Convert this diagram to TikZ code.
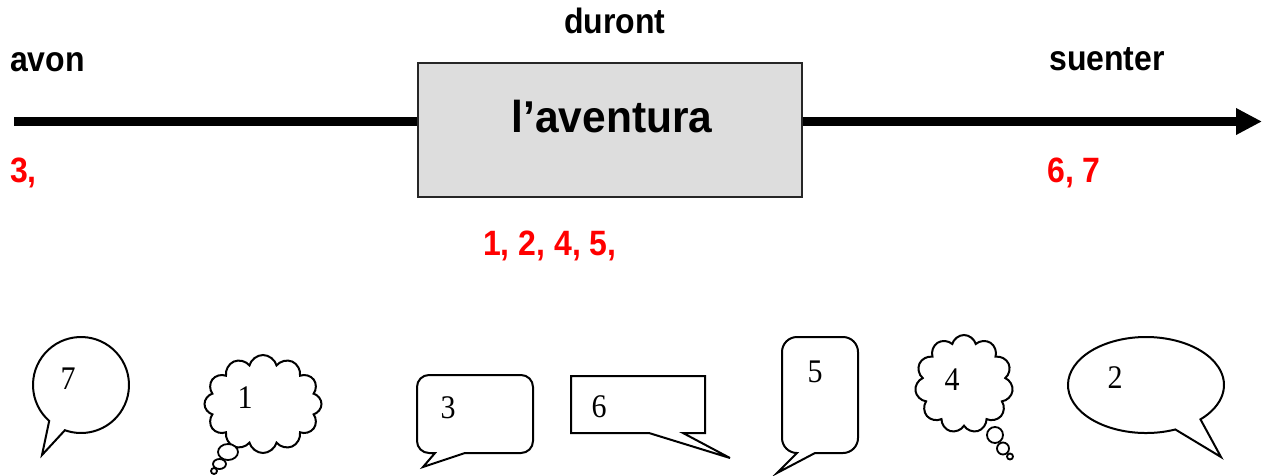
\documentclass[tikz,border=0pt]{standalone}
\usepackage{fontspec}
\setmainfont{Liberation Sans}
\newfontfamily\numfont{Liberation Serif}
\usetikzlibrary{arrows.meta,shapes.symbols}
\definecolor{boxgray}{HTML}{DDDDDD}
\newcommand{\tallish}[1]{\scalebox{1}[1.1]{#1}}
\tikzset{
 lbl/.style={font=\fontsize{32}{32}\selectfont\bfseries, inner sep=0pt, anchor=base west},
 redlbl/.style={lbl, text=red},
 bubble/.style={draw=black, line width=2pt, fill=white, line join=miter},
 num/.style={font=\fontsize{30}{30}\selectfont\numfont, inner sep=0pt, anchor=base},
 cloudshape/.style={cloud, draw=black, line width=2pt, fill=white, inner sep=0pt},
 thought/.style={draw=black, line width=1.8pt, fill=white},
 timeline/.style={line width=9pt, line cap=butt},
}
\begin{document}
\begin{tikzpicture}[x=1pt,y=-1pt]
\useasboundingbox (0,0) rectangle (1267,475);
% timeline
\coordinate (start) at (14,121.5);
\coordinate (end) at (1262,121.5);
\node[draw=black!85, line width=2pt, fill=boxgray, minimum width=384pt, minimum height=134pt, inner sep=0pt] (box) at (609.5,129.5) {};
\draw[timeline] (start) -- (start -| box.west);
\draw[timeline, -{Triangle[length=26pt,width=25pt]}] (end -| box.east) -- (end);
\node[font=\fontsize{42.5}{42.5}\selectfont\bfseries, inner sep=0pt, anchor=base] (title) at (612,132) {\scalebox{1}[1.05]{l’aventura}};
% labels
\node[lbl] (avon) at (10,71) {\tallish{avon}};
\node[lbl] (duront) at (564,33) {\tallish{duront}};
\node[lbl] (suenter) at (1049,70) {\tallish{suenter}};
\node[redlbl] (r1) at (10,182) {\tallish{3,}};
\node[redlbl] (r3) at (1047,182) {\tallish{6, 7}};
\node[redlbl] (r2) at (483,255) {\tallish{1, 2, 4, 5,}};
% bubble 7
\draw[bubble] (81,385) ++(131.5:48 and 48) arc[start angle=131.5, end angle=469.6, x radius=48, y radius=48] -- (42,455) -- cycle;
\node[num] (n7) at (68,389) {\tallish{7}};
% cloud 1
\node[cloudshape, cloud puffs=12, minimum width=117pt, minimum height=98pt] (c1) at (263,404) {};
\draw[thought] (228,452) ellipse[x radius=10, y radius=8];
\draw[thought] (219.5,464) ellipse[x radius=6.5, y radius=5];
\draw[thought] (214,471) circle[radius=3];
\node[num] (n1) at (245,408) {\tallish{1}};
% bubble 3
\draw[bubble] (521,453) -- (465,453) -- (423,467) -- (435,453) -- (429,453)
  arc[start angle=90, end angle=180, radius=12] -- (417,387)
  arc[start angle=180, end angle=270, radius=12] -- (521,375)
  arc[start angle=270, end angle=360, radius=12] -- (533,441)
  arc[start angle=0, end angle=90, radius=12] -- cycle;
\node[num] (n3) at (448,418) {\tallish{3}};
% bubble 6
\draw[bubble] (571,376) -- (705,376) -- (705,433) -- (683,433) -- (730,458) -- (649,433) -- (571,433) -- cycle;
\node[num] (n6) at (599,417) {\tallish{6}};
% bubble 5
\draw[bubble] (843,453) -- (815,453) -- (777,473) -- (797,453)
  arc[start angle=90, end angle=180, radius=15] -- (782,352)
  arc[start angle=180, end angle=270, radius=15] -- (843,337)
  arc[start angle=270, end angle=360, radius=15] -- (858,438)
  arc[start angle=0, end angle=90, radius=15] -- cycle;
\node[num] (n5) at (815,382) {\tallish{5}};
% cloud 4
\node[cloudshape, cloud puffs=11, minimum width=98pt, minimum height=98pt] (c4) at (964,384) {};
\draw[thought] (995,435) circle[radius=8];
\draw[thought] (1003,448.5) circle[radius=6];
\draw[thought] (1010,456.5) circle[radius=3];
\node[num] (n4) at (952,390) {\tallish{4}};
% bubble 2
\draw[bubble] (1146,385) ++(67.9:78 and 48) arc[start angle=67.9, end angle=405.7, x radius=78, y radius=48] -- (1221,457) -- cycle;
\node[num] (n2) at (1115,388) {\tallish{2}};
\end{tikzpicture}
\end{document}
